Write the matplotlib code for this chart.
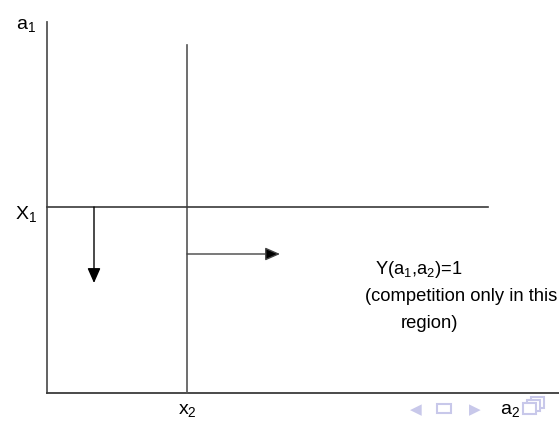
import matplotlib.pyplot as plt
from matplotlib.patches import Rectangle

plt.rcParams['font.family'] = ['Liberation Sans', 'DejaVu Sans']
plt.rcParams['mathtext.fontset'] = 'custom'
plt.rcParams['mathtext.rm'] = 'Liberation Sans'

# diagram values (pixel frame of the slide)
x2_pos = 187          # threshold x2 on the a2 axis
X1_pos = 208          # threshold X1 on the a1 axis
axis_origin = (47, 394)
region_lines = ['Y(a$_\\mathrm{1}$,a$_\\mathrm{2}$)=1', '(competition only in this', 'region)']
region_x = [419, 461, 429]
region_y = [270, 297, 324]

fig = plt.figure(figsize=(5.59, 4.27), dpi=100)
ax = fig.add_axes([0, 0, 1, 1])
ax.set_xlim(0, 559)
ax.set_ylim(427, 0)
ax.axis('off')

ox, oy = axis_origin
line_col = '#3a3a3a'
# axes
ax.plot([ox, ox], [23, oy], color='#555555', lw=1.3)
ax.plot([ox, 559], [oy, oy], color=line_col, lw=1.3)
# thresholds
ax.plot([x2_pos, x2_pos], [46, oy], color='#555555', lw=1.2)
ax.plot([ox, 488], [X1_pos, X1_pos], color=line_col, lw=1.2)

# arrows
ax.annotate('', xy=(94, 284), xytext=(94, X1_pos),
            arrowprops=dict(arrowstyle='-|>,head_length=0.5,head_width=0.22',
                            color='black', lw=1.0,
                            mutation_scale=18, shrinkA=0, shrinkB=0))
ax.annotate('', xy=(280, 255), xytext=(x2_pos, 255),
            arrowprops=dict(arrowstyle='-|>,head_length=0.5,head_width=0.22',
                            lw=1.0, mutation_scale=18, shrinkA=0, shrinkB=0,
                            ec='#444444', fc='black'))

fs = 13.2
sub = lambda s, n: s + '$_\\mathrm{' + n + '}$'
ax.text(26, 26, sub('a', '1'), fontsize=14, ha='center', va='center')
ax.text(26, 215, sub('X', '1'), fontsize=14, ha='center', va='center')
ax.text(x2_pos, 411, sub('x', '2'), fontsize=14, ha='center', va='center')
ax.text(510, 411, sub('a', '2'), fontsize=14, ha='center', va='center')
for t, x, y in zip(region_lines, region_x, region_y):
    ax.text(x, y, t, fontsize=fs, ha='center', va='center')

# beamer navigation symbols
nav = '#c8c8ea'
ax.text(416, 410, '◀', fontsize=11, color=nav, ha='center', va='center',
        family='DejaVu Sans')
ax.add_patch(Rectangle((437, 405), 14, 9, fill=False, ec=nav, lw=1.5))
ax.text(475, 410, '▶', fontsize=11, color=nav, ha='center', va='center',
        family='DejaVu Sans')
for dx, dy in [(8, -6), (4, -3), (0, 0)]:
    ax.add_patch(Rectangle((523 + dx, 404 + dy), 13, 11, fc='white', ec=nav, lw=1.5))

fig.savefig('out.png', dpi=100)
